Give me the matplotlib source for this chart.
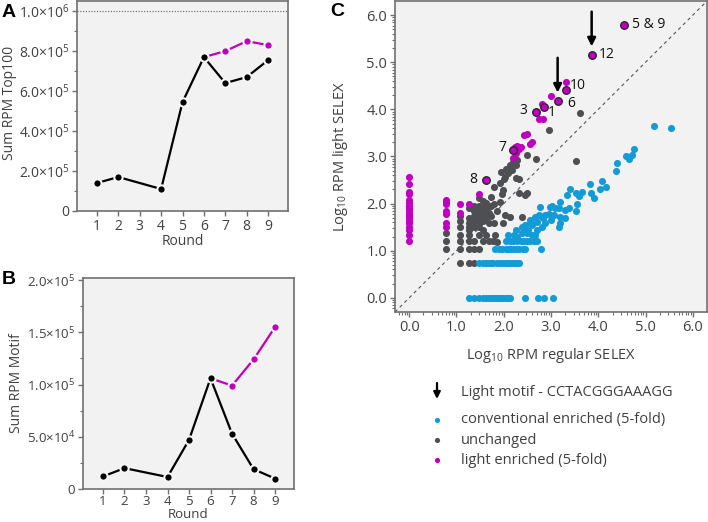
import matplotlib
matplotlib.use('Agg')
import matplotlib.pyplot as plt
import numpy as np

plt.rcParams['font.family'] = ['Open Sans', 'DejaVu Sans']
plt.rcParams['mathtext.fontset'] = 'custom'
plt.rcParams['mathtext.rm'] = 'Open Sans'
plt.rcParams['mathtext.default'] = 'regular'

# ---- panel A / B data ----
rounds_black = [1, 2, 4, 5, 6, 7, 8, 9]
top100_black = [1.4e5, 1.7e5, 1.1e5, 5.45e5, 7.7e5, 6.4e5, 6.7e5, 7.55e5]
rounds_light = [6, 7, 8, 9]
top100_light = [7.7e5, 8.0e5, 8.5e5, 8.3e5]

motif_black = [1.2e4, 2.0e4, 1.15e4, 4.7e4, 1.06e5, 5.3e4, 1.9e4, 1.0e4]
motif_light = [1.06e5, 9.9e4, 1.24e5, 1.55e5]

# ---- panel C data (log10 RPM regular, log10 RPM light) ----
blue_x = [1.26, 1.38, 1.48, 1.56, 1.63, 1.68, 1.73, 1.78, 1.82, 1.86, 1.89, 1.93, 1.96, 1.99, 2.04,
          2.09, 2.14, 2.44, 2.73, 2.85, 3.05,
          1.48, 1.56, 1.63, 1.68, 1.73, 1.78, 1.86, 1.93, 1.99, 2.04, 2.09, 2.14, 2.20, 2.26, 2.33,
          1.82, 1.89, 1.96, 2.04, 2.09, 2.14, 2.20, 2.26, 2.33, 2.40, 2.46, 2.79,
          2.04, 2.14, 2.20, 2.28, 2.36, 2.42, 2.49, 2.56, 2.63, 2.70,
          2.09, 2.21, 2.28, 2.39, 2.49, 2.60, 2.67, 2.25, 2.46, 2.52, 2.70,
          2.46, 2.56, 2.60, 2.81, 2.88, 2.99, 3.16, 3.20, 2.39,
          2.67, 2.71, 2.74, 2.81, 2.84, 2.88, 2.95, 3.06, 3.20, 3.29, 2.56,
          2.77, 2.97, 3.02, 3.09, 3.16, 3.20, 3.38, 3.52, 3.55, 3.30,
          3.34, 3.41, 3.52, 3.59, 3.66, 3.82, 3.84, 3.92, 4.03, 4.07, 4.16,
          4.38, 4.39, 4.59, 4.66, 4.72, 4.75, 5.18, 5.53]
blue_y = [0.0] * 21 + [0.73] * 15 + [1.03] * 12 + [1.21] * 10 + \
         [1.33, 1.33, 1.30, 1.37, 1.37, 1.33, 1.34, 1.43, 1.43, 1.43, 1.44,
          1.55, 1.58, 1.55, 1.51, 1.58, 1.65, 1.50, 1.58, 1.51,
          1.72, 1.62, 1.76, 1.72, 1.69, 1.76, 1.79, 1.76, 1.72, 1.69, 1.66,
          1.93, 1.93, 1.95, 1.91, 1.90, 2.04, 1.90, 1.84, 2.00, 1.86,
          2.18, 2.32, 2.22, 2.16, 2.25, 2.42, 2.22, 2.11, 2.30, 2.48, 2.35,
          2.70, 2.87, 3.00, 2.94, 3.03, 3.16, 3.65, 3.61]

gray_x = [0.78, 0.78, 0.78,
          1.08, 1.08, 1.08, 1.08, 1.08, 1.08, 1.08,
          1.26, 1.26, 1.26, 1.26, 1.26, 1.26, 1.26, 1.26, 1.26,
          1.38, 1.38, 1.38, 1.38, 1.38, 1.38, 1.38, 1.38,
          1.48, 1.48, 1.48, 1.48, 1.48, 1.48, 1.48, 1.48, 1.48,
          1.56, 1.56, 1.56, 1.56, 1.56, 1.56, 1.56,
          1.63, 1.63, 1.63, 1.63, 1.63,
          1.68, 1.68, 1.68, 1.68,
          1.73, 1.73, 1.73, 1.78,
          1.79, 1.79, 1.79, 1.82, 1.86, 1.86,
          1.93, 1.93, 1.94, 1.96, 1.99, 1.99,
          2.00, 2.03, 2.03, 2.05, 2.10, 2.14, 2.14, 2.17, 2.20,
          2.23, 2.25, 2.27, 2.29, 2.32, 2.32, 2.46, 2.49, 2.49,
          2.69, 2.95, 3.53, 3.62, 2.38]
gray_y = [1.37, 1.21, 1.03,
          1.73, 1.63, 1.51, 1.33, 1.21, 1.03, 0.73,
          1.91, 1.69, 1.58, 1.51, 1.43, 1.33, 1.21, 1.03, 0.73,
          1.96, 1.84, 1.73, 1.63, 1.51, 1.21, 1.03, 0.73,
          2.11, 1.94, 1.84, 1.77, 1.69, 1.58, 1.51, 1.33, 1.03,
          2.05, 1.91, 1.81, 1.73, 1.63, 1.43, 1.21,
          2.01, 1.88, 1.77, 1.69, 1.33,
          1.94, 1.81, 1.58, 1.21,
          2.14, 1.96, 1.73, 1.21,
          2.36, 2.00, 1.58, 1.33, 1.84, 1.19,
          2.04, 2.43, 2.67, 2.20, 2.28, 1.58,
          2.53, 2.57, 1.76, 2.74, 2.64, 2.82, 1.72, 2.71, 2.89,
          2.96, 2.82, 2.54, 2.92, 2.22, 2.53, 2.18, 2.22, 3.03,
          2.94, 3.56, 2.91, 3.93, 1.72]

light_x = [0.0] * 19 + [0.78] * 7 + \
          [1.08, 1.08, 1.26, 1.48,
           2.20, 2.25, 2.28, 2.32, 2.37, 2.42, 2.49, 2.55, 2.60, 2.24,
           2.74, 2.84, 2.80, 2.99, 3.32]
light_y = [2.57, 2.41, 2.25, 2.21, 2.08, 2.01, 1.96, 1.91, 1.86, 1.81, 1.77, 1.73, 1.69, 1.63,
           1.58, 1.51, 1.43, 1.33, 1.21,
           2.08, 2.04, 2.00, 1.84, 1.77, 1.58, 1.51,
           1.99, 1.81, 1.99, 2.20,
           2.97, 3.08, 3.23, 3.16, 3.21, 3.45, 3.47, 3.26, 3.30, 3.20,
           3.80, 3.80, 4.12, 4.29, 4.58]

# labelled aptamers (light enriched)
lab_names = ['5 & 9', '12', '10', '6', '1', '3', '7', '8']
lab_x = [4.54, 3.86, 3.31, 3.14, 2.85, 2.68, 2.20, 1.62]
lab_y = [5.80, 5.16, 4.42, 4.18, 4.05, 3.95, 3.14, 2.51]
# offsets of label text (points); negative dx -> text left of the point
lab_off = [(6, 0), (5, 0), (3, 3), (7, -2), (3, -4), (-6, 1), (-5, 2), (-6, 0)]
# aptamers with light motif (arrow)
motif_names = ['12', '6']

BG = '#f2f2f2'
SPINE = '#707070'
TXT = '#404040'
MAG = '#c000c0'
BLUE = '#139bd8'
GRAY = '#4d4f52'

fig = plt.figure(figsize=(7.08, 5.22), dpi=100)


def style_axes(ax):
    ax.set_facecolor(BG)
    for s in ax.spines.values():
        s.set_color(SPINE)
        s.set_linewidth(1.2)
    ax.tick_params(colors=SPINE, labelcolor=TXT, direction='out', length=3.5, width=1, pad=2)
    ax.tick_params(which='minor', length=2, width=0.8, colors=SPINE)


def sci(v, e):
    return r'%.1f$\times$10$^{%d}$' % (v, e)


# ---- panel A ----
axA = fig.add_axes([0.1088, 0.5958, 0.298, 0.402])
style_axes(axA)
axA.axhline(1e6, color='#606060', lw=0.8, ls=(0, (1, 1.5)))
axA.plot(rounds_light, top100_light, color=MAG, lw=1.6, marker='o', ms=6,
         mec='#f6f6f6', mew=1.5, markevery=[1, 2, 3], zorder=3)
axA.plot(rounds_black, top100_black, color='black', lw=1.6, marker='o', ms=6,
         mec='#f6f6f6', mew=1.5, zorder=4)
axA.set_xlim(0.07, 9.93)
axA.set_ylim(0, 1.05e6)
axA.set_xticks(range(1, 10))
axA.set_yticks([0, 2e5, 4e5, 6e5, 8e5, 1e6])
axA.set_yticklabels(['0', sci(2, 5), sci(4, 5), sci(6, 5), sci(8, 5), sci(1, 6)], fontsize=10)
axA.set_yticks([1e5, 3e5, 5e5, 7e5, 9e5], minor=True)
axA.tick_params(axis='x', labelsize=10)
axA.set_ylabel('Sum RPM Top100', fontsize=10, color=TXT)
axA.yaxis.set_label_coords(-0.285, 0.514)
axA.set_xlabel('Round', fontsize=10, color=TXT)
axA.xaxis.set_label_coords(0.5, -0.11)

# ---- panel B ----
axB = fig.add_axes([0.1172, 0.0632, 0.298, 0.4042])
style_axes(axB)
axB.plot(rounds_light, motif_light, color=MAG, lw=1.6, marker='o', ms=6,
         mec='#f6f6f6', mew=1.5, markevery=[1, 2, 3], zorder=3)
axB.plot(rounds_black, motif_black, color='black', lw=1.6, marker='o', ms=6,
         mec='#f6f6f6', mew=1.5, zorder=4)
axB.set_xlim(0.07, 9.88)
axB.set_ylim(0, 2.02e5)
axB.set_xticks(range(1, 10))
axB.set_yticks([0, 5e4, 1e5, 1.5e5, 2e5])
axB.set_yticklabels(['0', sci(5, 4), sci(1, 5), sci(1.5, 5), sci(2, 5)], fontsize=9.5)
axB.set_yticks([2.5e4, 7.5e4, 1.25e5, 1.75e5], minor=True)
axB.tick_params(axis='x', labelsize=9.5, pad=1)
axB.set_ylabel('Sum RPM Motif', fontsize=10, color=TXT)
axB.yaxis.set_label_coords(-0.28, 0.5)
axB.set_xlabel('Round', fontsize=9.5, color=TXT)
axB.xaxis.set_label_coords(0.5, -0.092)

# ---- panel C ----
axC = fig.add_axes([0.5579, 0.4023, 0.4407, 0.5958])
style_axes(axC)
axC.set_xlim(-0.3, 6.3)
axC.set_ylim(-0.3, 6.3)
axC.plot([-0.3, 6.3], [-0.3, 6.3], color='#555555', lw=0.8, ls=(0, (3, 3)), zorder=1)
axC.scatter(gray_x, gray_y, s=26, color=GRAY, lw=0, zorder=2)
axC.scatter(blue_x, blue_y, s=26, color=BLUE, lw=0, zorder=3)
axC.scatter(light_x, light_y, s=26, color=MAG, lw=0, zorder=4)
axC.scatter(lab_x, lab_y, s=30, color=MAG, edgecolor='#222222', lw=0.9, zorder=5)
for name, x, y, off in zip(lab_names, lab_x, lab_y, lab_off):
    axC.annotate(name, (x, y), xytext=off, textcoords='offset points', fontsize=10,
                 color='#111111', va='center', ha='left' if off[0] > 0 else 'right', zorder=6)
    if name in motif_names:
        axC.annotate('', xy=(x, y), xytext=(0, 31), textcoords='offset points',
                     arrowprops=dict(arrowstyle='-|>', color='black', lw=1.8,
                                     mutation_scale=12, shrinkA=0, shrinkB=6), zorder=6)

ticks = list(range(0, 7))
axC.set_xticks(ticks)
axC.set_yticks(ticks)
axC.set_xticklabels(['%.1f' % t for t in ticks], fontsize=10.5)
axC.set_yticklabels(['%.1f' % t for t in ticks], fontsize=10.5)
minor = [n + np.log10(k) for n in range(-1, 7) for k in range(2, 10)]
minor = [m for m in minor if -0.3 < m < 6.3]
axC.set_xticks(minor, minor=True)
axC.set_yticks(minor, minor=True)
axC.set_xlabel('Log$_{10}$ RPM regular SELEX', fontsize=10.5, color=TXT)
axC.xaxis.set_label_coords(0.5, -0.109)
axC.set_ylabel('Log$_{10}$ RPM light SELEX', fontsize=10.5, color=TXT)
axC.yaxis.set_label_coords(-0.144, 0.5)

# ---- legend (pixel coordinates overlay) ----
leg = fig.add_axes([0, 0, 1, 1])
leg.set_xlim(0, 708)
leg.set_ylim(522, 0)
leg.axis('off')
leg.annotate('', xy=(437, 399), xytext=(437, 383),
             arrowprops=dict(arrowstyle='-|>', color='black', lw=1.6, mutation_scale=10,
                             shrinkA=0, shrinkB=0))
leg.text(461, 392, 'Light motif - CCTACGGGAAAGG', fontsize=10.5, color=TXT, va='center')
leg_names = ['conventional enriched (5-fold)', 'unchanged', 'light enriched (5-fold)']
leg_cols = [BLUE, GRAY, MAG]
for i, (nm, c) in enumerate(zip(leg_names, leg_cols)):
    leg.scatter([437], [420 + 20 * i], s=14, color=c, lw=0)
    leg.text(461, 420 + 20 * i, nm, fontsize=10.5, color=TXT, va='center')

# panel letters
for lbl, x, y in [('A', 2, 4), ('B', 2, 271), ('C', 330, 3)]:
    fig.text(x / 708, 1 - y / 522, lbl, fontsize=14, weight='bold',
             family='Liberation Sans', va='top', ha='left')

fig.savefig('out.png', dpi=100)
